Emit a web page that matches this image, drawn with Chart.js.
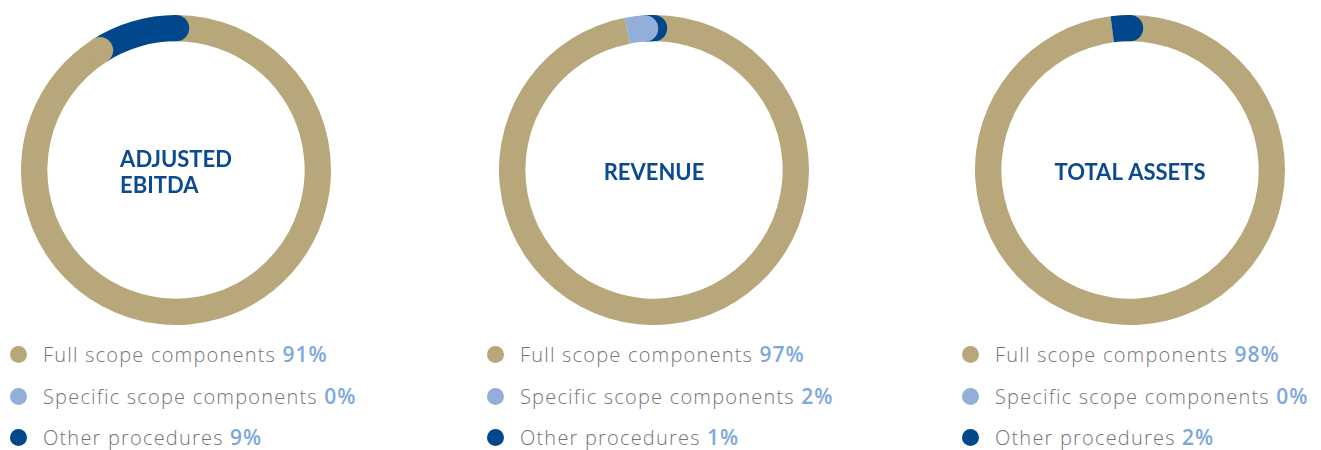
<!DOCTYPE html>
<html>
<head>
<meta charset="utf-8">
<script src="https://cdn.jsdelivr.net/npm/chart.js@4.4.1/dist/chart.umd.min.js"></script>
<style>
  html, body { margin: 0; padding: 0; background: #fff; }
  body { width: 1321px; height: 450px; position: relative; overflow: hidden; }
  .donut { position: absolute; top: 15px; width: 310px; height: 310px; }
  .legend { position: absolute; top: 334px; margin: 0; padding: 0; list-style: none;
            font-family: "Open Sans", sans-serif; font-weight: 300; font-size: 20px;
            letter-spacing: 1.2px; color: #767676; }
  .legend li { height: 41.5px; line-height: 41.5px; white-space: nowrap; }
  .legend .dot { display: inline-block; width: 17px; height: 17px; border-radius: 50%;
                 vertical-align: middle; margin-right: 16px; position: relative; top: -2px; }
  .legend .pct { color: #7ea8dc; font-weight: 600; font-size: 21px; letter-spacing: 1px; }
</style>
</head>
<body>
<div class="donut" style="left:21px"><canvas id="chart0"></canvas></div>
<div class="donut" style="left:499px"><canvas id="chart1"></canvas></div>
<div class="donut" style="left:975px"><canvas id="chart2"></canvas></div>
<ul class="legend" id="legend0" style="left:10px"></ul>
<ul class="legend" id="legend1" style="left:487px"></ul>
<ul class="legend" id="legend2" style="left:962px"></ul>

<script>
// data
const labels = ['Full scope components', 'Specific scope components', 'Other procedures'];
const colors = ['#b8a77a', '#93afd9', '#00478c'];

const titles = [['ADJUSTED', 'EBITDA'], ['REVENUE'], ['TOTAL ASSETS']];
const ebitdaValues = [91, 0, 9];
const revenueValues = [97, 2, 1];
const assetsValues = [98, 0, 2];

// which segment ends get a rounded cap
const roundEnds = [[true, false, true], [false, true, true], [false, false, true]];

const allValues = [ebitdaValues, revenueValues, assetsValues];

// draws round caps on segment ends and the title in the middle
const donutExtras = {
    id: 'donutExtras',
    afterDatasetsDraw(chart, args, opts) {
        const ctx = chart.ctx;
        const meta = chart.getDatasetMeta(0);
        const values = chart.data.datasets[0].data;
        // last segment first, so earlier caps sit on top of later segments
        for (let i = meta.data.length - 1; i >= 0; i--) {
            if (!values[i] || !opts.caps[i]) continue;
            const p = meta.data[i].getProps(['x', 'y', 'endAngle', 'innerRadius', 'outerRadius']);
            const mid = (p.innerRadius + p.outerRadius) / 2;
            const r = (p.outerRadius - p.innerRadius) / 2;
            ctx.save();
            ctx.fillStyle = chart.data.datasets[0].backgroundColor[i];
            ctx.beginPath();
            ctx.arc(p.x + mid * Math.cos(p.endAngle), p.y + mid * Math.sin(p.endAngle), r, 0, Math.PI * 2);
            ctx.fill();
            ctx.restore();
        }

        // title
        const first = meta.data[0];
        const cx = first.x, cy = first.y + 3;
        ctx.save();
        ctx.fillStyle = '#0b4a8e';
        ctx.font = 'bold 22px Lato, sans-serif';
        ctx.textBaseline = 'middle';
        const lines = opts.title;
        const widest = Math.max(...lines.map(l => ctx.measureText(l).width));
        const lineH = 26;
        const top = cy - (lines.length - 1) * lineH / 2;
        ctx.textAlign = 'left';
        lines.forEach((line, k) => {
            ctx.fillText(line, cx - widest / 2, top + k * lineH);
        });
        ctx.restore();
    }
};

function createDonut(index) {
    const ctx = document.getElementById('chart' + index).getContext('2d');
    new Chart(ctx, {
        type: 'doughnut',
        data: {
            labels: labels,
            datasets: [{
                data: allValues[index],
                backgroundColor: colors,
                borderWidth: 0,
                hoverOffset: 0
            }]
        },
        options: {
            responsive: true,
            maintainAspectRatio: false,
            animation: false,
            cutout: '83%',
            layout: { padding: 0 },
            plugins: {
                legend: { display: false },
                tooltip: { enabled: false },
                donutExtras: { caps: roundEnds[index], title: titles[index] }
            }
        },
        plugins: [donutExtras]
    });

    // html legend with the grey label and blue percentage
    const list = document.getElementById('legend' + index);
    labels.forEach((label, i) => {
        const li = document.createElement('li');
        li.innerHTML = '<span class="dot" style="background:' + colors[i] + '"></span>' +
            label + ' <span class="pct">' + allValues[index][i] + '%</span>';
        list.appendChild(li);
    });
}

window.onload = function() {
    [0, 1, 2].forEach(createDonut);
};
</script>
</body>
</html>
